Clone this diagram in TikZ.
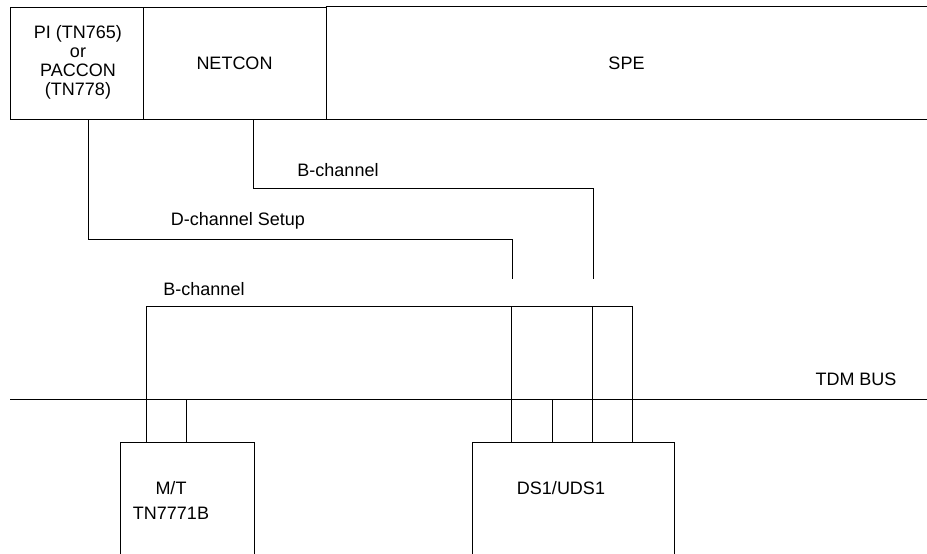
\documentclass[tikz,border=0pt]{standalone}
\usepackage{fontspec}
\setmainfont{Liberation Sans}
\usetikzlibrary{calc}
\begin{document}
\begin{tikzpicture}[x=1pt,y=-1pt,line width=0.8pt,line join=miter,
  txt/.style={font=\fontsize{18}{19}\selectfont,inner sep=0pt,align=center},
  unit/.style={inner sep=0pt,minimum height=112pt},
  card/.style={inner sep=0pt,minimum width=133pt,minimum height=111pt}]
\useasboundingbox (0,0) rectangle (927,554);
% top row
\node[unit,draw,minimum width=133pt] (pi) at (76.5,63) {};
\node[txt] (pitxt) at (78,62) {PI (TN765)\\or\\PACCON\\(TN778)};
\node[unit,draw,minimum width=183pt,txt] (netcon) at (234.5,63) {NETCON};
\node[unit,minimum width=601pt,txt] (spe) at (626.5,63) {SPE};
\draw (spe.north west) -- (spe.north east) (spe.south west) -- (spe.south east);
% cards
\node[card] (mt) at (187.5,498.5) {};
\draw (mt.south west) -- (mt.north west) -- (mt.north east) -- (mt.south east);
\node[txt] (mttxt) at (171,500.5) {M/T\\[6pt]TN7771B};
\node[card,minimum width=201pt] (ds) at (573.5,498.5) {};
\draw (ds.south west) -- (ds.north west) -- (ds.north east) -- (ds.south east);
\node[txt] (dstxt) at (561,488) {DS1/UDS1};
% bus
\coordinate (busL) at (10,399);
\coordinate (busR) at (927,399);
\draw (busL) -- (busR);
\node[txt] (tdm) at (856,379) {TDM BUS};
% connector end points
\coordinate (dS) at ($(pi.south west)+(79,0)$);
\coordinate (bS) at ($(netcon.south west)+(111,0)$);
\coordinate (dE) at (512,279);
\coordinate (bE) at (593,279);
\coordinate (mtA) at ($(mt.north west)+(26,0)$);
\coordinate (mtB) at ($(mt.north west)+(66,0)$);
\coordinate (p1) at ($(ds.north west)+(39,0)$);
\coordinate (p2) at ($(ds.north west)+(80,0)$);
\coordinate (p3) at ($(ds.north west)+(120,0)$);
\coordinate (p4) at ($(ds.north west)+(160,0)$);
% connectors
\draw (dS) -- ++(0,120) -| (dE);
\draw (bS) -- ++(0,69) -| (bE);
\draw (mtA) -- ++(0,-136) -| (p4);
\draw (p1) -- ++(0,-136);
\draw (p3) -- ++(0,-136);
\draw (mtB) -- ++(0,-44);
\draw (p2) -- ++(0,-44);
% labels
\node[txt] (lb1) at (338,170) {B-channel};
\node[txt] (ld) at (238,221) {D-channel Setup};
\node[txt] (lb2) at (204,289) {B-channel};
\end{tikzpicture}
\end{document}
